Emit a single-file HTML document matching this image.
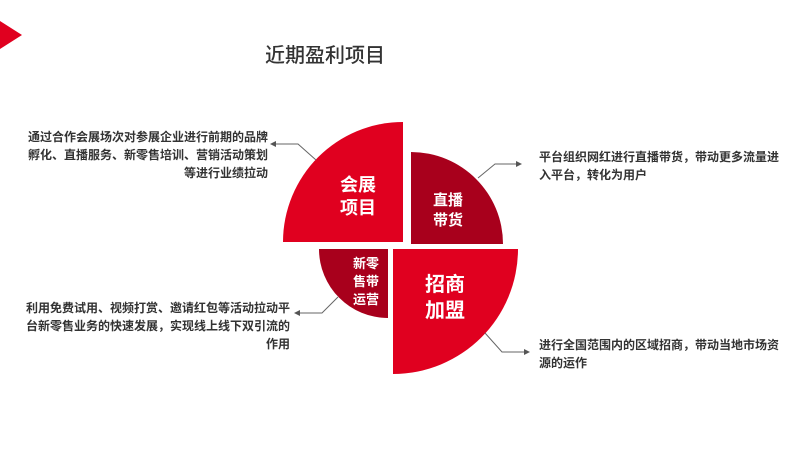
<!DOCTYPE html>
<html><head><meta charset="utf-8"><style>
html,body{margin:0;padding:0;background:#fff;}
body{width:800px;height:450px;position:relative;overflow:hidden;font-family:"Liberation Sans","Noto Sans CJK SC",sans-serif;}
.t{position:absolute;font-size:12px;line-height:18px;color:#333;font-weight:bold;letter-spacing:0;white-space:nowrap;}
.r{text-align:right;}
</style></head><body>
<svg width="800" height="450" style="position:absolute;left:0;top:0">
<polygon points="0,21 22,35 0,49" fill="#e0001f"/>
<path d="M403,242 L283,242 A120,120 0 0 1 403,122 Z" fill="#e0001f"/>
<path d="M411,244 L411,152 A92,92 0 0 1 503,244 Z" fill="#a8001c"/>
<path d="M388,249 L388,318 A69,69 0 0 1 319,249 Z" fill="#a8001c"/>
<path d="M393,249 L518,249 A125,125 0 0 1 393,374 Z" fill="#e0001f"/>
<g stroke="#666" stroke-width="1" fill="none">
<polyline points="316,160 298,144 274,144"/>
<polyline points="478,178 495,164 518,164"/>
<polyline points="485,333 502,352 526,352"/>
<polyline points="338,297 322,313 298,313"/>
</g>
<g fill="#555">
<polygon points="270,144 276,141 276,147"/>
<polygon points="522,164 516,161 516,167"/>
<polygon points="530,352 524,349 524,355"/>
<polygon points="294,313 300,310 300,316"/>
</g>
<g fill="#fff" font-family="Liberation Sans,Noto Sans CJK SC,sans-serif" text-anchor="middle" font-weight="bold">
<text x="358" y="191" font-size="18">会展</text>
<text x="358" y="214" font-size="18">项目</text>
<text x="448" y="205" font-size="15">直播</text>
<text x="448" y="225" font-size="15">带货</text>
<text x="366" y="268" font-size="13">新零</text>
<text x="366" y="286" font-size="13">售带</text>
<text x="366" y="304" font-size="13">运营</text>
<text x="445" y="291" font-size="20">招商</text>
<text x="445" y="317" font-size="20">加盟</text>
</g>
<text x="265" y="62" font-size="20" fill="#333" font-weight="500" font-family="Liberation Sans,Noto Sans CJK SC,sans-serif">近期盈利项目</text>
</svg>
<div class="t r" style="right:532px;top:128px">通过合作会展场次对参展企业进行前期的品牌<br>孵化、直播服务、新零售培训、营销活动策划<br>等进行业绩拉动</div>
<div class="t r" style="right:510px;top:299px">利用免费试用、视频打赏、邀请红包等活动拉动平<br>台新零售业务的快速发展，实现线上线下双引流的<br>作用</div>
<div class="t" style="left:539px;top:148px">平台组织网红进行直播带货，带动更多流量进<br>入平台，转化为用户</div>
<div class="t" style="left:539px;top:336px">进行全国范围内的区域招商，带动当地市场资<br>源的运作</div>
</body></html>
